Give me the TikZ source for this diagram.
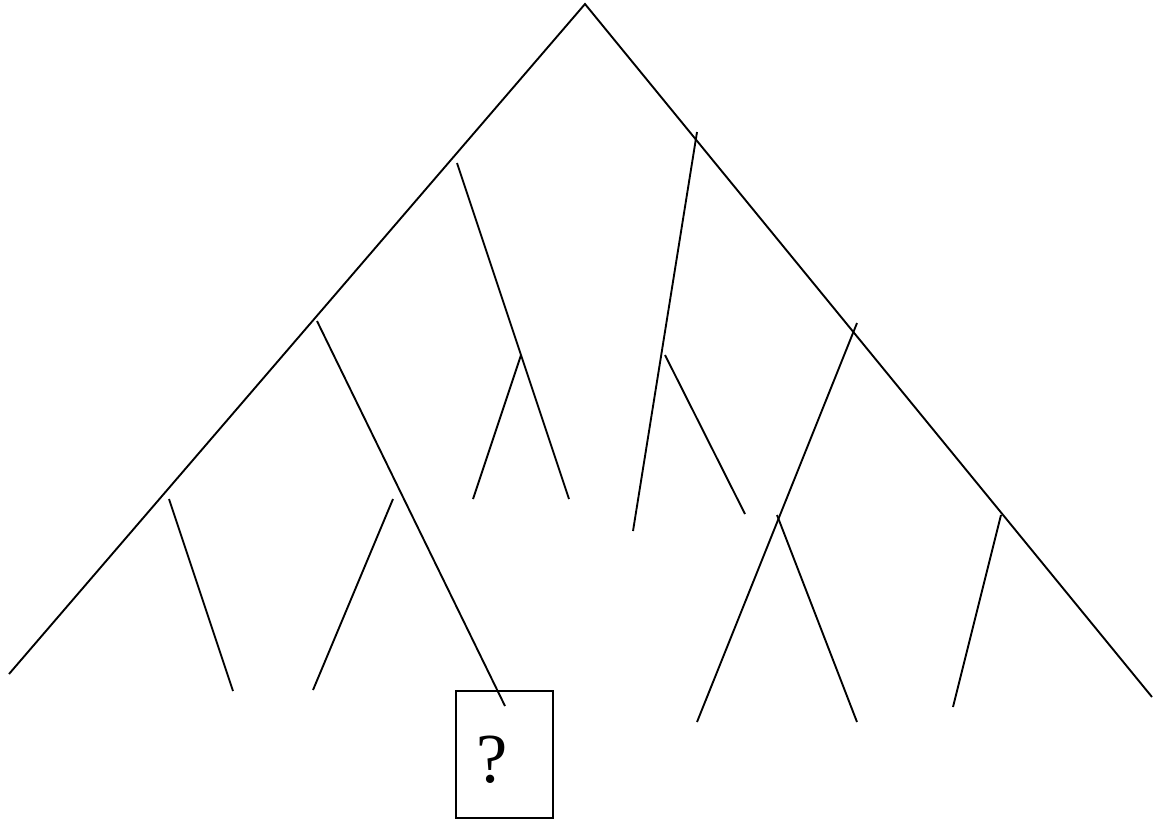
\documentclass[tikz,border=0pt]{standalone}
\usepackage{fontspec}
\setmainfont{Liberation Serif}
\usepackage{tikz}
\usetikzlibrary{positioning}

\begin{document}
\begin{tikzpicture}[x=0.015cm, y=-0.015cm, line width=0.8pt]
  \useasboundingbox (0,0) rectangle (1153,820);

  \coordinate (root) at (585,4);
  \coordinate (lend) at (9,674);
  \coordinate (rend) at (1152,697);

  \coordinate (a1) at (457,163);  \coordinate (a2) at (569,499);
  \coordinate (a3) at (521,355);  \coordinate (a4) at (473,499);
  \coordinate (b1) at (317,321);  \coordinate (b2) at (505,706);
  \coordinate (b3) at (393,499);  \coordinate (b4) at (313,690);
  \coordinate (c1) at (169,499);  \coordinate (c2) at (233,691);

  \coordinate (d1) at (697,132);  \coordinate (d2) at (633,531);
  \coordinate (d3) at (665,355);  \coordinate (d4) at (745,514);
  \coordinate (e1) at (857,323);  \coordinate (e2) at (697,722);
  \coordinate (e3) at (777,515);  \coordinate (e4) at (857,722);
  \coordinate (f1) at (1001,515); \coordinate (f2) at (953,707);

  \draw (lend) -- (root) -- (rend);
  \draw (a1) -- (a2);
  \draw (a3) -- (a4);
  \draw (b1) -- (b2);
  \draw (b3) -- (b4);
  \draw (c1) -- (c2);
  \draw (d1) -- (d2);
  \draw (d3) -- (d4);
  \draw (e1) -- (e2);
  \draw (e3) -- (e4);
  \draw (f1) -- (f2);

  \node[draw, align=left, text width=0.835cm, inner xsep=0.31cm, inner ysep=0pt,
        minimum width=1.455cm, minimum height=1.905cm, text height=24pt, text depth=0pt,
        font=\fontsize{30}{30}\selectfont] (qbox) at (504.5,754.5) {?};
\end{tikzpicture}
\end{document}
